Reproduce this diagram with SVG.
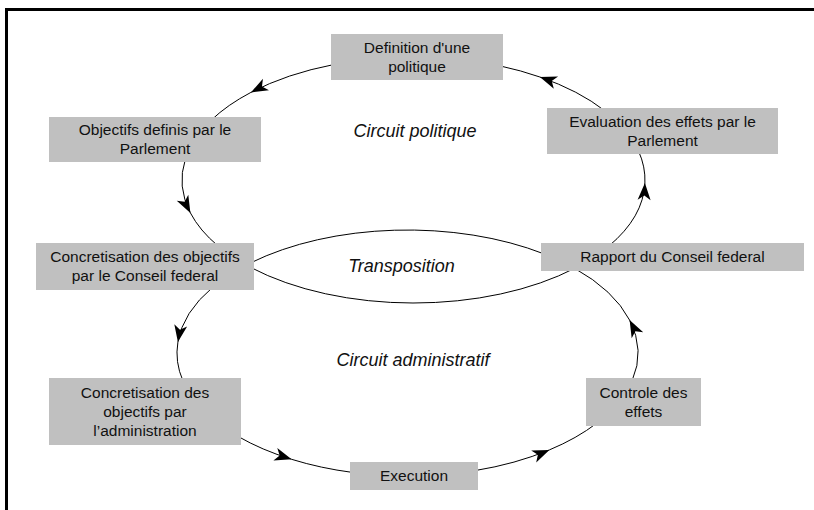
<svg xmlns="http://www.w3.org/2000/svg" width="814" height="510" viewBox="0 0 814 510">
<style>
.box{fill:#c0c0c0;stroke:none}
.t{font-family:"Liberation Sans",Arial,sans-serif;font-size:15.5px;fill:#111;text-anchor:middle}
.lbl{font-family:"Liberation Sans",Arial,sans-serif;font-size:18px;font-style:italic;fill:#111;text-anchor:middle}
.c{fill:none;stroke:#000;stroke-width:1}
.arr{marker-mid:url(#ah)}
</style>
<defs>
<marker id="ah" viewBox="-19 -8 20 16" refX="0" refY="0" markerWidth="20" markerHeight="16" markerUnits="userSpaceOnUse" orient="auto">
<path d="M0,0 L-17,-6.5 L-12.5,0 L-17,6.5 Z" fill="#000"/>
</marker>
</defs>
<rect x="0" y="0" width="814" height="510" fill="#fff"/>
<g id="frame">
<rect x="5" y="8" width="809" height="3" fill="#000"/>
<rect x="5" y="8" width="3" height="502" fill="#000"/>
</g>
<g id="connectors">
<path class="c arr" d="M334,64.5 A231.5,123 0 0 0 250.9,92.4 A231.5,123 0 0 0 211.4,120"/>
<path class="c arr" d="M185.4,159 A231.5,123 0 0 0 190.4,212.9 A231.5,123 0 0 0 218.1,246"/>
<path class="c" d="M251,267.6 A231.5,123 0 0 0 575.3,268"/>
<path class="c arr" d="M608.9,246 A231.5,123 0 0 0 644.9,183 A231.5,123 0 0 0 638.5,151"/>
<path class="c arr" d="M605.1,111 A231.5,123 0 0 0 539.9,77 A231.5,123 0 0 0 500,65.9"/>
<path class="c arr" d="M213,287 A230.5,123 0 0 0 177.9,342.1 A230.5,123 0 0 0 183,381"/>
<path class="c arr" d="M238,436.4 A230.5,123 0 0 0 291.6,459.3 A230.5,123 0 0 0 353,472.5"/>
<path class="c arr" d="M475,470.6 A230.5,123 0 0 0 549.4,449.9 A230.5,123 0 0 0 597,423"/>
<path class="c arr" d="M632,381 A230.5,123 0 0 0 629.6,320.1 A230.5,123 0 0 0 574.1,268"/>
<path class="c" d="M544,253.9 A230.5,123 0 0 0 251,262.7"/>
</g>
<g id="definition">
<rect class="box" x="331" y="34" width="172" height="46"/>
<text class="t" x="417" y="53">Definition d'une</text>
<text class="t" x="417" y="72">politique</text>
</g>
<g id="objectifs">
<rect class="box" x="49" y="117" width="212" height="45"/>
<text class="t" x="155" y="135">Objectifs definis par le</text>
<text class="t" x="155" y="154">Parlement</text>
</g>
<g id="evaluation">
<rect class="box" x="547" y="108" width="231" height="46"/>
<text class="t" x="662.5" y="127">Evaluation des effets par le</text>
<text class="t" x="662.5" y="146">Parlement</text>
</g>
<g id="concretisation-conseil">
<rect class="box" x="36" y="243" width="218" height="47"/>
<text class="t" x="145" y="262">Concretisation des objectifs</text>
<text class="t" x="145" y="281">par le Conseil federal</text>
</g>
<g id="rapport">
<rect class="box" x="541" y="243" width="263" height="28"/>
<text class="t" x="672.5" y="262">Rapport du Conseil federal</text>
</g>
<g id="concretisation-admin">
<rect class="box" x="49" y="378" width="192" height="67"/>
<text class="t" x="145" y="398">Concretisation des</text>
<text class="t" x="145" y="417">objectifs par</text>
<text class="t" x="145" y="436">l’administration</text>
</g>
<g id="execution">
<rect class="box" x="350" y="462" width="128" height="28"/>
<text class="t" x="414" y="481">Execution</text>
</g>
<g id="controle">
<rect class="box" x="586" y="378" width="115" height="48"/>
<text class="t" x="643.5" y="398">Controle des</text>
<text class="t" x="643.5" y="417">effets</text>
</g>
<g id="labels">
<text class="lbl" x="415" y="137">Circuit politique</text>
<text class="lbl" x="401.5" y="272">Transposition</text>
<text class="lbl" x="413" y="366">Circuit administratif</text>
</g>
</svg>
